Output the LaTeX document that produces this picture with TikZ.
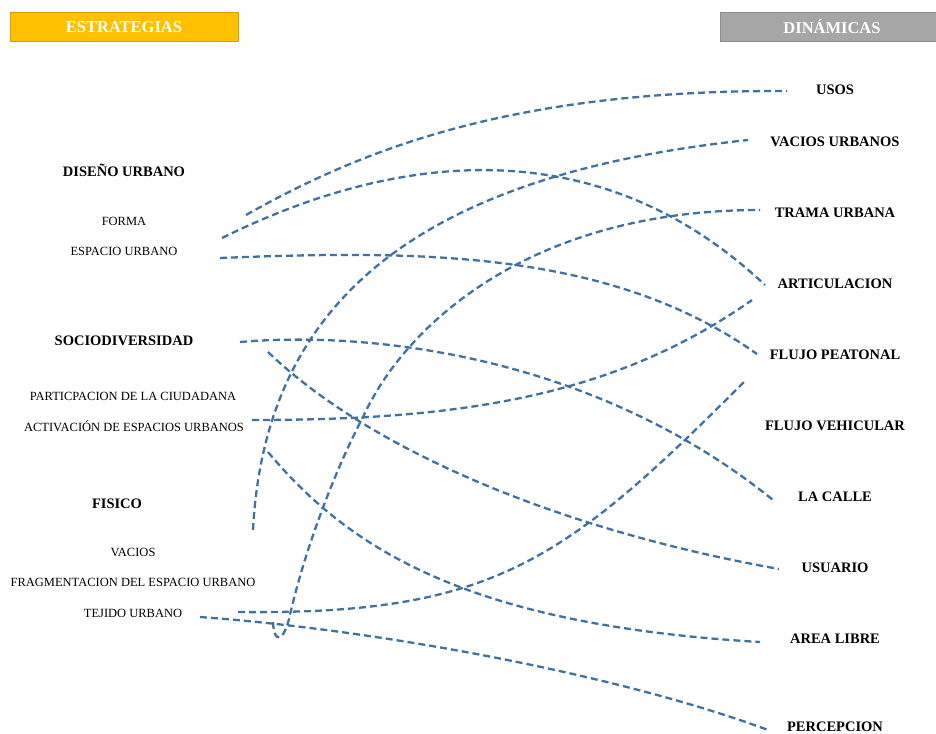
\documentclass[tikz,border=0pt]{standalone}
\usepackage{fontspec}
\setmainfont{Liberation Serif}
\definecolor{lnblue}{RGB}{65,113,156}
\definecolor{goldfill}{RGB}{255,192,0}
\definecolor{goldedge}{RGB}{214,160,0}
\definecolor{greyfill}{RGB}{166,166,166}
\definecolor{greyedge}{RGB}{140,140,140}
\begin{document}
\begin{tikzpicture}[x=1pt,y=-1pt,
  head/.style={minimum height=29pt, inner sep=0pt, font=\fontsize{16.5}{19}\selectfont\bfseries, text=white, line width=0.8pt},
  cat/.style={font=\fontsize{14.5}{17}\selectfont\bfseries, inner sep=0pt},
  item/.style={font=\fontsize{12.5}{15}\selectfont, inner sep=0pt},
  dyn/.style={font=\fontsize{14.5}{17}\selectfont\bfseries, inner sep=0pt},
  link/.style={draw=lnblue, line width=2.3pt, dash pattern=on 7pt off 4pt}]
\useasboundingbox (0,0) rectangle (936,733);

% headers
\node[head, fill=goldfill, draw=goldedge, minimum width=228pt] (strat) at (124,27) {ESTRATEGIAS};
\node[head, fill=greyfill, draw=greyedge, minimum width=224pt] (dinam) at (832,27) {DINÁMICAS};

% left column
\node[cat]  (disurb) at (124,170) {DISEÑO URBANO};
\node[item] (forma)  at (124,221) {FORMA};
\node[item] (espurb) at (124,251) {ESPACIO URBANO};
\node[cat]  (socio)  at (124,341) {SOCIODIVERSIDAD};
\node[item] (partic) at (133,396) {PARTICPACION DE LA CIUDADANA};
\node[item] (activ)  at (134,426) {ACTIVACIÓN DE ESPACIOS URBANOS};
\node[cat]  (fisico) at (117,504) {FISICO};
\node[item] (vacios) at (133,552) {VACIOS};
\node[item] (fragm)  at (133,582) {FRAGMENTACION DEL ESPACIO URBANO};
\node[item] (tejido) at (133,613) {TEJIDO URBANO};

% right column
\node[dyn] (usos)   at (835,90)  {USOS};
\node[dyn] (vacurb) at (835,142) {VACIOS URBANOS};
\node[dyn] (trama)  at (835,213) {TRAMA URBANA};
\node[dyn] (artic)  at (835,284) {ARTICULACION};
\node[dyn] (fpeat)  at (835,355) {FLUJO PEATONAL};
\node[dyn] (fveh)   at (835,426) {FLUJO VEHICULAR};
\node[dyn] (calle)  at (835,497) {LA CALLE};
\node[dyn] (usuario) at (835,568) {USUARIO};
\node[dyn] (alibre) at (835,639) {AREA LIBRE};
\node[dyn] (percep) at (835,727) {PERCEPCION};

% connector end points
\coordinate (a1) at (246,215);  \coordinate (b1) at (787,91);
\coordinate (a2) at (222,238);  \coordinate (b2) at (765,285);
\coordinate (a3) at (220,258);  \coordinate (b3) at (757,354);
\coordinate (a4) at (253,530);  \coordinate (b4) at (748,140);
\coordinate (a5) at (273,622);  \coordinate (m5) at (290,615); \coordinate (n5) at (363,417); \coordinate (b5) at (760,210);
\coordinate (a6) at (240,342);  \coordinate (b6) at (773,500);
\coordinate (a7) at (268,352);  \coordinate (b7) at (779,569);
\coordinate (a8) at (252,420);  \coordinate (b8) at (752,300);
\coordinate (a9) at (268,452);  \coordinate (b9) at (760,642);
\coordinate (a10) at (238,612); \coordinate (b10) at (746,380);
\coordinate (a11) at (200,617); \coordinate (b11) at (768,730);

% connectors
\draw[link] (a1) .. controls (370,145) and (520,90) .. (b1);
\draw[link] (a2) .. controls (400,150) and (600,130) .. (b2);
\draw[link] (a3) .. controls (420,250) and (610,250) .. (b3);
\draw[link] (a4) .. controls (265,300) and (420,175) .. (b4);
\draw[link] (a5) .. controls (274,645) and (284,642) .. (m5)
            .. controls (302,561) and (330,480) .. (n5)
            .. controls (405,325) and (530,210) .. (b5);
\draw[link] (a6) .. controls (380,330) and (600,360) .. (b6);
\draw[link] (a7) .. controls (370,450) and (560,530) .. (b7);
\draw[link] (a8) .. controls (450,420) and (610,400) .. (b8);
\draw[link] (a9) .. controls (350,550) and (470,625) .. (b9);
\draw[link] (a10) .. controls (494,615) and (565,561) .. (b10);
\draw[link] (a11) .. controls (380,630) and (620,675) .. (b11);
\end{tikzpicture}
\end{document}
